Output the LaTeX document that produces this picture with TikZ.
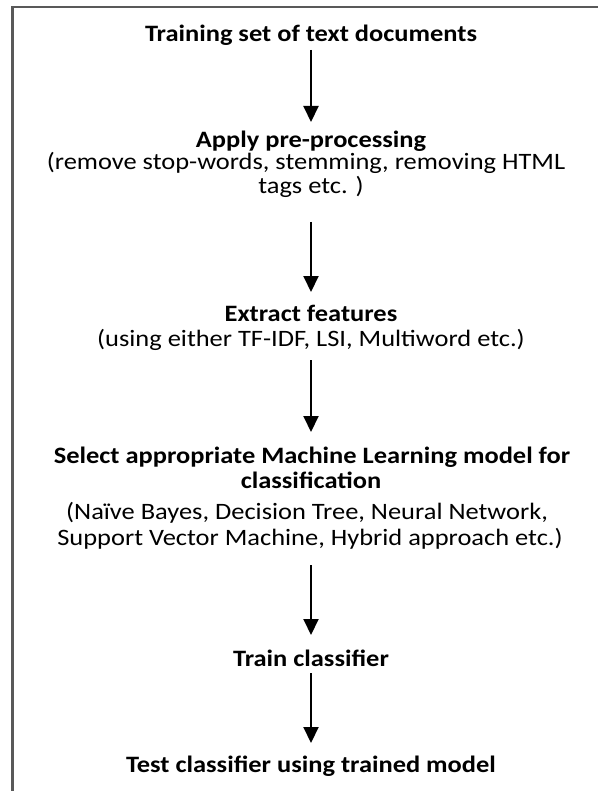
\documentclass[tikz,border=0pt]{standalone}
\usepackage{fontspec}
\setmainfont{Carlito}
\usetikzlibrary{arrows.meta}
\begin{document}
\begin{tikzpicture}[x=1pt,y=-1pt,
  every node/.style={inner sep=0pt,outer sep=0pt,anchor=base,xscale=1.125,transform shape,font=\fontsize{23.5}{26}\selectfont},
  hd/.style={font=\fontsize{23.5}{26}\selectfont\bfseries},
  arr/.style={line width=2pt,-{Triangle[width=15pt,length=16pt]}},
  frame/.style={draw=black!65,line width=2.5pt}]
\useasboundingbox (0,0) rectangle (598,791);
\draw[frame] (12.5,791) -- (12.5,7) -- (598,7);

\node[hd] (t1) at (311,42) {Training set of text documents};
\node[hd] (t2) at (311,148) {Apply pre-processing};
\node (t2a) at (306,170) {(remove stop-words, stemming, removing HTML};
\node (t2b) at (311,194) {tags etc. )};
\node[hd] (t3) at (311,321) {Extract features};
\node (t3a) at (311,346) {(using either TF-IDF, LSI, Multiword etc.)};
\node[hd] (t4) at (312,463) {Select appropriate Machine Learning model for};
\node[hd] (t4a) at (311,488) {classification};
\node (t4b) at (307,519) {(Naïve Bayes, Decision Tree, Neural Network,};
\node (t4c) at (310,545) {Support Vector Machine, Hybrid approach etc.)};
\node[hd] (t5) at (311,666) {Train classifier};
\node[hd] (t6) at (311,772) {Test classifier using trained model};

\draw[arr] ([yshift=-8pt]t1.base) -- ([yshift=26pt]t2.base);
\draw[arr] ([yshift=-28pt]t2b.base) -- ([yshift=29pt]t3.base);
\draw[arr] ([yshift=-14pt]t3a.base) -- ([yshift=31pt]t4.base -| t3a.base);
\draw[arr] ([yshift=-20pt]t4c.base -| t5.base) -- ([yshift=31pt]t5.base);
\draw[arr] ([yshift=-7pt]t5.base) -- ([yshift=29pt]t6.base);
\end{tikzpicture}
\end{document}
